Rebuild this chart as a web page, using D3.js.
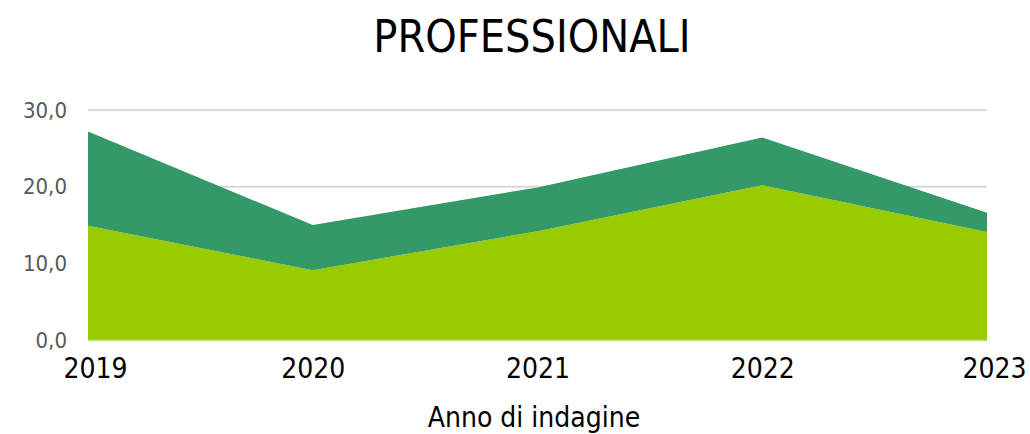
<!DOCTYPE html>
<html><head><meta charset="utf-8">
<script src="https://cdn.jsdelivr.net/npm/d3@7"></script>
<style>body{margin:0;background:#fff;}svg{display:block;}text{font-family:"DejaVu Sans Condensed","DejaVu Sans",sans-serif;font-stretch:condensed;}</style>
</head><body>
<svg id="c" width="1030" height="434"></svg>
<script>
const years = ["2019","2020","2021","2022","2023"];
const seriesBottom = [14.9, 9.1, 14.2, 20.2, 14.1];
const seriesTop = [12.3, 5.9, 5.7, 6.2, 2.5];
const yTicks = [0, 10, 20, 30];
const title = "PROFESSIONALI";
const xTitle = "Anno di indagine";

const svg = d3.select("#c");
const m = {l:88, r:1030-987, t:110, b:434-340};
const W = 1030, H = 434;
const x = d3.scalePoint().domain(years).range([m.l, W-m.r]);
const y = d3.scaleLinear().domain([0,30]).range([H-m.b, m.t]);

const rows = years.map((yr,i)=>({year:yr, a:seriesBottom[i], b:seriesTop[i]}));
const stack = d3.stack().keys(["a","b"])(rows);
const colors = {a:"#99cc00", b:"#339966"};

// gridlines
svg.append("g").selectAll("line").data(yTicks.filter(d=>d>0)).join("line")
  .attr("x1", m.l).attr("x2", W-m.r).attr("y1", d=>y(d)).attr("y2", d=>y(d))
  .attr("stroke","#d9d9d9").attr("stroke-width",2);

const area = d3.area().x(d=>x(d.data.year)).y0(d=>y(d[0])).y1(d=>y(d[1]));
svg.append("g").selectAll("path").data(stack).join("path")
  .attr("d", area).attr("fill", d=>colors[d.key]);

// baseline
svg.append("line").attr("x1",m.l).attr("x2",W-m.r).attr("y1",y(0)+0.5).attr("y2",y(0)+0.5)
  .attr("stroke","#c4dd88").attr("stroke-width",1.5);

// y axis labels
const yAxis = d3.axisLeft(y).tickValues(yTicks).tickSize(0).tickPadding(21)
  .tickFormat(d=>d3.format(".1f")(d).replace(".",","));
const gy = svg.append("g").attr("transform",`translate(${m.l},0)`).call(yAxis);
gy.select(".domain").remove();
gy.selectAll("text").attr("font-size",22).attr("fill","#595959")
  .style("font-family",'"DejaVu Sans Condensed","DejaVu Sans",sans-serif');

// x axis labels
const xAxis = d3.axisBottom(x).tickSize(0).tickPadding(18);
const gx = svg.append("g").attr("transform",`translate(0,${y(0)})`).call(xAxis);
gx.select(".domain").remove();
gx.selectAll("text").attr("font-size",28).attr("fill","#000")
  .style("font-family",'"DejaVu Sans Condensed","DejaVu Sans",sans-serif');
// edge labels nudged inward/outward like the original
gx.selectAll(".tick").filter((d,i)=>i===0).select("text").attr("dx",7);
gx.selectAll(".tick").filter((d,i)=>i===years.length-1).select("text").attr("dx",7);

svg.append("text").attr("x",534).attr("y",427).attr("text-anchor","middle")
  .attr("font-size",28).attr("fill","#000").text(xTitle);

svg.append("text").attr("x",532).attr("y",52).attr("text-anchor","middle")
  .attr("font-size",44.5).attr("fill","#000").text(title);
</script>
</body></html>
